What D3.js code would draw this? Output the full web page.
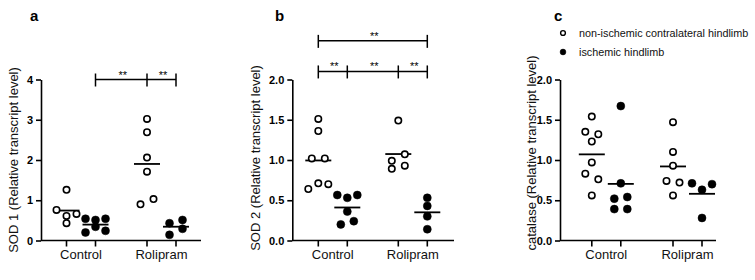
<!DOCTYPE html>
<html>
<head>
<meta charset="utf-8">
<script src="https://cdn.jsdelivr.net/npm/d3@7/dist/d3.min.js"></script>
<style>
  html, body { margin: 0; padding: 0; background: #fff; }
  svg { display: block; font-family: "Liberation Sans", Arial, sans-serif; }
</style>
</head>
<body>
<svg id="chart" width="755" height="280"></svg>
<script>
// ---------------- data ----------------
const categories = ["Control", "Rolipram"];
const seriesNames = ["non-ischemic contralateral hindlimb", "ischemic hindlimb"];

// panel a: SOD 1
const sod1ControlOpen   = [1.26, 0.76, 0.61, 0.66, 0.43];
const sod1ControlFilled = [0.54, 0.51, 0.54, 0.20, 0.34, 0.24];
const sod1RoliOpen      = [3.02, 2.69, 2.06, 1.71, 0.90, 1.03];
const sod1RoliFilled    = [0.43, 0.51, 0.14, 0.29];
const sod1Ticks = [0, 1, 2, 3, 4];

// panel b: SOD 2
const sod2ControlOpen   = [1.51, 1.36, 1.02, 1.02, 0.64, 0.71, 0.70];
const sod2ControlFilled = [0.565, 0.53, 0.565, 0.36, 0.20, 0.24];
const sod2RoliOpen      = [1.49, 0.99, 1.07, 0.89, 0.93];
const sod2RoliFilled    = [0.53, 0.43, 0.30, 0.14];
const sod2Ticks = [0, 0.5, 1.0, 1.5, 2.0];

// panel c: catalase
const catControlOpen   = [1.54, 1.35, 1.32, 1.23, 0.97, 0.83, 0.76, 0.56];
const catControlFilled = [1.67, 0.71, 0.52, 0.54, 0.39, 0.39];
const catRoliOpen      = [1.47, 1.10, 0.93, 0.74, 0.72, 0.56];
const catRoliFilled    = [0.71, 0.63, 0.70, 0.28];
const catTicks = [0, 0.5, 1.0, 1.5, 2.0];

// significance brackets (group index 1-based, series index) with level and labels
const sod1Brackets = [
  { level: 4.0, points: [[1, 1], [2, 0], [2, 1]], labels: ["**", "**"] }
];
const sod2Brackets = [
  { level: 2.10, points: [[1, 0], [1, 1], [2, 0], [2, 1]], labels: ["**", "**", "**"] },
  { level: 2.48, points: [[1, 0], [2, 1]], labels: ["**"] }
];

// ---------------- layout ----------------
const panels = [
  { letter: "a", ylabel: "SOD 1 (Relative transcript level)", max: 4, ticks: sod1Ticks, fmt: d3.format("d"),
    x0: 41, x1: 201, c0: 40, c1: 120.5, labelX: 18, labelY: 160, letterX: 30,
    groups: [[sod1ControlOpen, sod1ControlFilled], [sod1RoliOpen, sod1RoliFilled]], brackets: sod1Brackets },
  { letter: "b", ylabel: "SOD 2 (Relative transcript level)", max: 2, ticks: sod2Ticks, fmt: d3.format(".1f"),
    x0: 292.3, x1: 454, c0: 40.5, c1: 120.5, labelX: 260, labelY: 158, letterX: 275,
    groups: [[sod2ControlOpen, sod2ControlFilled], [sod2RoliOpen, sod2RoliFilled]], brackets: sod2Brackets },
  { letter: "c", ylabel: "catalase (Relative transcript level)", max: 2, ticks: catTicks, fmt: d3.format(".1f"),
    x0: 560, x1: 716, c0: 46.3, c1: 127.5, labelX: 536, labelY: 153, letterX: 554,
    groups: [[catControlOpen, catControlFilled], [catRoliOpen, catRoliFilled]], brackets: [] }
];

const yTop = 79.5, yBottom = 240.5;
const svg = d3.select("#chart");

function rowOffsets(values, y) {
  const idx = values.map((v, i) => i).sort((a, b) => values[b] - values[a]);
  const rows = [];
  let cur = null;
  idx.forEach(i => {
    const py = y(values[i]);
    if (cur && py - cur.start < 7) cur.items.push(i);
    else { cur = { start: py, items: [i] }; rows.push(cur); }
  });
  const off = new Array(values.length).fill(0);
  rows.forEach(r => {
    const items = r.items.slice().sort((a, b) => a - b);
    const n = items.length;
    const sp = n === 2 ? 13 : 10;
    items.forEach((i, k) => { off[i] = (k - (n - 1) / 2) * sp; });
  });
  return off;
}

panels.forEach(p => {
  const g = svg.append("g");
  const y = d3.scaleLinear().domain([0, p.max]).range([yBottom, yTop]);
  const gx = d3.scalePoint().domain(categories).range([p.x0 + p.c0, p.x0 + p.c1]);
  const sx = d3.scalePoint().domain([0, 1]).range([-14.5, 14.5]);
  const xPos = (gi, si) => gx(categories[gi]) + sx(si);

  // y axis
  const yAxis = d3.axisLeft(y).tickValues(p.ticks).tickFormat(p.fmt).tickSize(5).tickPadding(3).tickSizeOuter(0);
  const ya = g.append("g").attr("transform", `translate(${p.x0},0)`).call(yAxis);
  ya.select(".domain").attr("stroke", "#000").attr("stroke-width", 1.6);
  ya.selectAll(".tick line").attr("stroke", "#000").attr("stroke-width", 1.6);
  ya.selectAll(".tick text").attr("fill", "#000").style("font-size", "11px").style("font-weight", "bold")
    .style("font-family", "'Liberation Sans', Arial, sans-serif");

  // x axis
  g.append("line").attr("x1", p.x0).attr("x2", p.x1).attr("y1", yBottom).attr("y2", yBottom)
    .attr("stroke", "#000").attr("stroke-width", 1.6);
  const tickPos = [];
  categories.forEach((c, gi) => [0, 1].forEach(si => tickPos.push(xPos(gi, si))));
  g.selectAll(".xt").data(tickPos).join("line")
    .attr("x1", d => d).attr("x2", d => d).attr("y1", yBottom).attr("y2", yBottom + 6)
    .attr("stroke", "#000").attr("stroke-width", 1.6);
  g.selectAll(".xl").data(categories).join("text")
    .attr("x", d => gx(d)).attr("y", 258.5).attr("text-anchor", "middle")
    .style("font-size", "13px").attr("fill", "#111").text(d => d);

  // y label
  g.append("text").attr("transform", `translate(${p.labelX},${p.labelY}) rotate(-90)`)
    .attr("text-anchor", "middle").style("font-size", "13px").attr("fill", "#111").text(p.ylabel);

  // panel letter
  g.append("text").attr("x", p.letterX).attr("y", 21).style("font-size", "15px").style("font-weight", "bold")
    .attr("fill", "#000").text(p.letter);

  // points and mean lines
  p.groups.forEach((pair, gi) => {
    pair.forEach((vals, si) => {
      const cx = xPos(gi, si);
      const off = rowOffsets(vals, y);
      const m = d3.mean(vals);
      g.append("line").attr("x1", cx - 13).attr("x2", cx + 13).attr("y1", y(m)).attr("y2", y(m))
        .attr("stroke", "#000").attr("stroke-width", 1.8);
      g.selectAll(null).data(vals).join("circle")
        .attr("cx", (d, i) => cx + off[i]).attr("cy", d => y(d))
        .attr("r", si === 0 ? 3.2 : 4)
        .attr("fill", si === 0 ? "#fff" : "#000")
        .attr("stroke", "#000").attr("stroke-width", si === 0 ? 1.6 : 0.5);
    });
  });

  // brackets
  p.brackets.forEach(b => {
    const by = y(b.level);
    const xs = b.points.map(([gi, si]) => xPos(gi - 1, si));
    g.append("line").attr("x1", xs[0]).attr("x2", xs[xs.length - 1]).attr("y1", by).attr("y2", by)
      .attr("stroke", "#000").attr("stroke-width", 1.5);
    g.selectAll(null).data(xs).join("line")
      .attr("x1", d => d).attr("x2", d => d).attr("y1", by - 6).attr("y2", by + 7)
      .attr("stroke", "#000").attr("stroke-width", 1.5);
    g.selectAll(null).data(b.labels).join("text")
      .attr("x", (d, i) => (xs[i] + xs[i + 1]) / 2 + 1.5).attr("y", by - 1)
      .attr("text-anchor", "middle").style("font-size", "11px").attr("fill", "#000").text(d => d);
  });
});

// legend
const legend = svg.append("g");
seriesNames.forEach((s, i) => {
  const ly = 33 + i * 19;
  legend.append("circle").attr("cx", 563).attr("cy", ly).attr("r", i === 0 ? 2.4 : 2.9)
    .attr("fill", i === 0 ? "#fff" : "#000").attr("stroke", "#000").attr("stroke-width", i === 0 ? 1.4 : 0.5);
  legend.append("text").attr("x", 579).attr("y", ly + 4).style("font-size", "10.8px").attr("fill", "#111").text(s);
});
</script>
</body>
</html>
